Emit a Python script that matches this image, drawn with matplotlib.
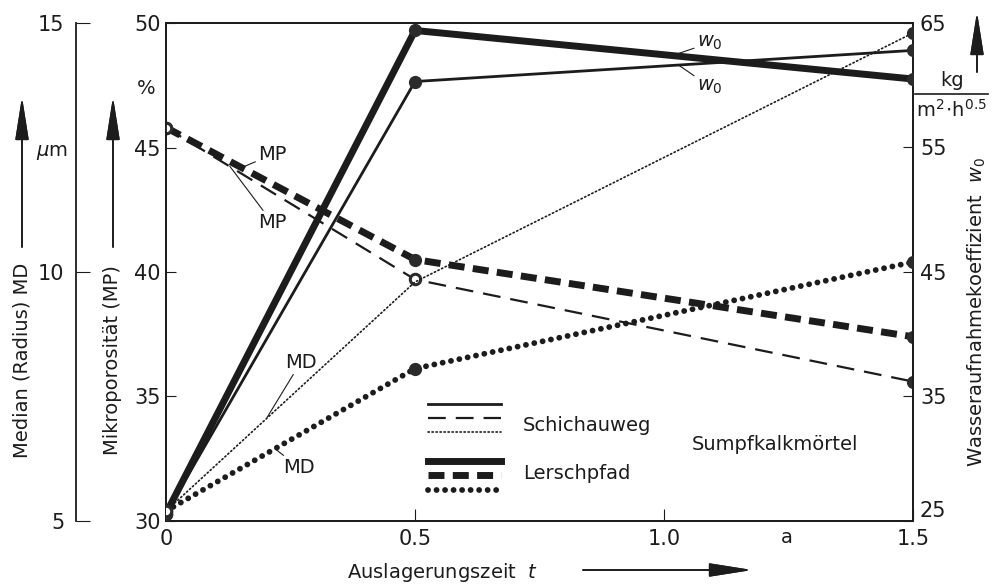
import matplotlib.pyplot as plt
import numpy as np
from matplotlib.lines import Line2D

# Auslagerungszeit t in Jahren
t = [0, 0.5, 1.5]

# Schichauweg
w0_schichau = [25.6, 60.3, 62.8]
mp_schichau = [45.8, 39.7, 35.6]
md_schichau = [5.2, 9.8, 14.8]

# Lerschpfad
w0_lersch = [25.6, 64.4, 60.5]
mp_lersch = [45.8, 40.5, 37.4]
md_lersch = [5.2, 8.06, 10.2]

x_ticks = [0, 0.5, 1.0, 1.5]
x_ticklabels = ["0", "0.5", "1.0", "1.5"]
mp_ticks = [30, 35, 40, 45, 50]
md_ticks = [5, 10, 15]
w0_ticks = [25, 35, 45, 55, 65]

ink = "#1c1c1c"
fs = 14

plt.rcParams["font.family"] = "DejaVu Sans"
plt.rcParams["mathtext.fontset"] = "dejavusans"

fig = plt.figure(figsize=(9.94, 5.85), dpi=100)
W, H = 994, 585


def fx(px):
    return px / W


def fy(py):
    return 1 - py / H


ax = fig.add_axes([fx(166), fy(521), fx(913) - fx(166), fy(23) - fy(521)])
ax_w = ax.twinx()
ax_md = ax.twinx()

ax.set_xlim(0, 1.5)
ax.set_ylim(30, 50)
ax_w.set_ylim(25, 65)
ax_md.set_ylim(5, 15)

# styles
thin_solid = dict(ls="-", lw=2.0)
thick_solid = dict(ls="-", lw=5.0)
thin_dash = dict(ls=(0, (8, 4.5)), lw=1.6, dash_capstyle="butt")
thick_dash = dict(ls=(0, (2.3, 1.2)), lw=5.0, dash_capstyle="butt")
thin_dot = dict(ls=(0, (0.8, 1.6)), lw=1.2, dash_capstyle="round")
thick_dot = dict(ls=(0, (0.01, 1.45)), lw=4.2, dash_capstyle="round")


def series(a, y, style, filled, hollow):
    a.plot(t, y, color=ink, solid_capstyle="butt", zorder=3, **style)
    tt = np.array(t)
    yy = np.array(y)
    if filled:
        a.plot(tt[filled], yy[filled], "o", ms=8.5, color="#2b2b2b", zorder=4)
    if hollow:
        a.plot(tt[hollow], yy[hollow], "o", ms=7.5, mfc="white", mec="#2b2b2b",
               mew=2.2, zorder=4)


series(ax_w, w0_schichau, thin_solid, [1, 2], [0])
series(ax_w, w0_lersch, thick_solid, [1, 2], [0])
series(ax, mp_schichau, thin_dash, [2], [0, 1])
series(ax, mp_lersch, thick_dash, [1, 2], [0])
series(ax_md, md_schichau, thin_dot, [2], [0])
series(ax_md, md_lersch, thick_dot, [1, 2], [0])

# spines and ticks
for a in (ax, ax_w, ax_md):
    a.tick_params(colors=ink, labelsize=15, direction="in")
    for s in a.spines.values():
        s.set_color(ink)
        s.set_linewidth(1.3)

ax.set_xticks(x_ticks)
ax.set_xticklabels(x_ticklabels)
ax.set_yticks(mp_ticks)
ax.tick_params(axis="x", length=9, pad=6)
ax.tick_params(axis="y", length=7, pad=4)

ax_w.set_yticks(w0_ticks)
ax_w.tick_params(axis="y", length=7, pad=5)
for lab in ax_w.get_yticklabels():
    if lab.get_text() == "25":
        lab.set_va("bottom")

ax_md.spines["left"].set_position(("outward", 65))
ax_md.spines["left"].set_visible(True)
ax_md.spines["right"].set_visible(False)
ax_md.spines["top"].set_visible(False)
ax_md.spines["bottom"].set_visible(False)
ax_md.yaxis.set_ticks_position("left")
ax_md.set_yticks(md_ticks)
ax_md.tick_params(axis="y", length=10, pad=8)

# leader annotations
lead = dict(arrowstyle="-", color=ink, lw=0.8, shrinkA=0, shrinkB=0)
ax_w.annotate(r"$w_0$", xy=(1.018, 62.4), xytext=(1.066, 63.4), fontsize=fs,
              color=ink, va="center", arrowprops=lead)
ax_w.annotate(r"$w_0$", xy=(1.03, 61.6), xytext=(1.066, 59.9), fontsize=fs,
              color=ink, va="center", arrowprops=lead)
ax.annotate("MP", xy=(0.153, 44.2), xytext=(0.185, 44.72), fontsize=fs,
            color=ink, va="center", arrowprops=lead)
ax.annotate("MP", xy=(0.128, 44.25), xytext=(0.185, 41.98), fontsize=fs,
            color=ink, va="center", arrowprops=lead)
ax_md.annotate("MD", xy=(0.203, 7.08), xytext=(0.239, 8.19), fontsize=fs,
               color=ink, va="center", arrowprops=lead)
ax_md.annotate("MD", xy=(0.219, 6.45), xytext=(0.236, 6.07), fontsize=fs,
               color=ink, va="center", arrowprops=lead)

# legend
handles = [
    Line2D([], [], color=ink, **thin_solid),
    Line2D([], [], color=ink, **thin_dash),
    Line2D([], [], color=ink, **thin_dot),
    Line2D([], [], lw=0),
    Line2D([], [], color=ink, **thick_solid),
    Line2D([], [], color=ink, **thick_dash),
    Line2D([], [], color=ink, **thick_dot),
]
ax.legend(handles, [""] * 7, loc="upper left", bbox_to_anchor=(0.351, 0.245),
          frameon=False, fontsize=7, handlelength=7.5, handletextpad=0,
          labelspacing=0.45, borderpad=0, borderaxespad=0)
ax.text(0.478, 0.191, "Schichauweg", transform=ax.transAxes, fontsize=fs,
        color=ink, va="center")
ax.text(0.478, 0.096, "Lerschpfad", transform=ax.transAxes, fontsize=fs,
        color=ink, va="center")
ax.text(0.704, 0.153, "Sumpfkalkmörtel", transform=ax.transAxes, fontsize=fs,
        color=ink, va="center")
ax.text(0.831, -0.034, "a", transform=ax.transAxes, fontsize=fs, color=ink,
        va="center", ha="center")

# axis titles
fig.text(fx(22), fy(360), "Median (Radius) MD", rotation=90, fontsize=fs,
         color=ink, ha="center", va="center")
fig.text(fx(113), fy(360), "Mikroporosität (MP)", rotation=90, fontsize=fs,
         color=ink, ha="center", va="center")
fig.text(fx(977), fy(312), r"Wasseraufnahmekoeffizient  $w_0$", rotation=90,
         fontsize=fs, color=ink, ha="center", va="center")
fig.text(fx(347), fy(573), r"Auslagerungszeit  $t$", fontsize=fs, color=ink,
         ha="left", va="center")
fig.text(fx(52), fy(152), r"$\mu$m", fontsize=fs, color=ink, ha="center",
         va="center")
fig.text(fx(146), fy(88), "%", fontsize=fs, color=ink, ha="center", va="center")
fig.text(fx(952), fy(80), "kg", fontsize=fs, color=ink, ha="center", va="center")
fig.text(fx(951), fy(110), r"$\mathregular{m^2\!\cdot\!h^{0.5}}$", fontsize=fs,
         color=ink, ha="center", va="center")
fig.add_artist(Line2D([fx(915), fx(988)], [fy(94), fy(94)], color=ink, lw=1.2,
                      transform=fig.transFigure))

arrow = dict(arrowstyle="-|>,head_length=1.9,head_width=0.3", color=ink,
             lw=1.2, mutation_scale=14, shrinkA=0, shrinkB=0)
for xa in (22, 113):
    fig.add_artist(plt.annotate("", xy=(fx(xa), fy(97)), xytext=(fx(xa), fy(247)),
                                xycoords="figure fraction",
                                textcoords="figure fraction", arrowprops=arrow))
fig.add_artist(plt.annotate("", xy=(fx(977), fy(12)), xytext=(fx(977), fy(72)),
                            xycoords="figure fraction",
                            textcoords="figure fraction", arrowprops=arrow))
fig.add_artist(plt.annotate("", xy=(fx(752), fy(570)), xytext=(fx(583), fy(570)),
                            xycoords="figure fraction",
                            textcoords="figure fraction", arrowprops=arrow))

fig.savefig("out.png", dpi=100)
